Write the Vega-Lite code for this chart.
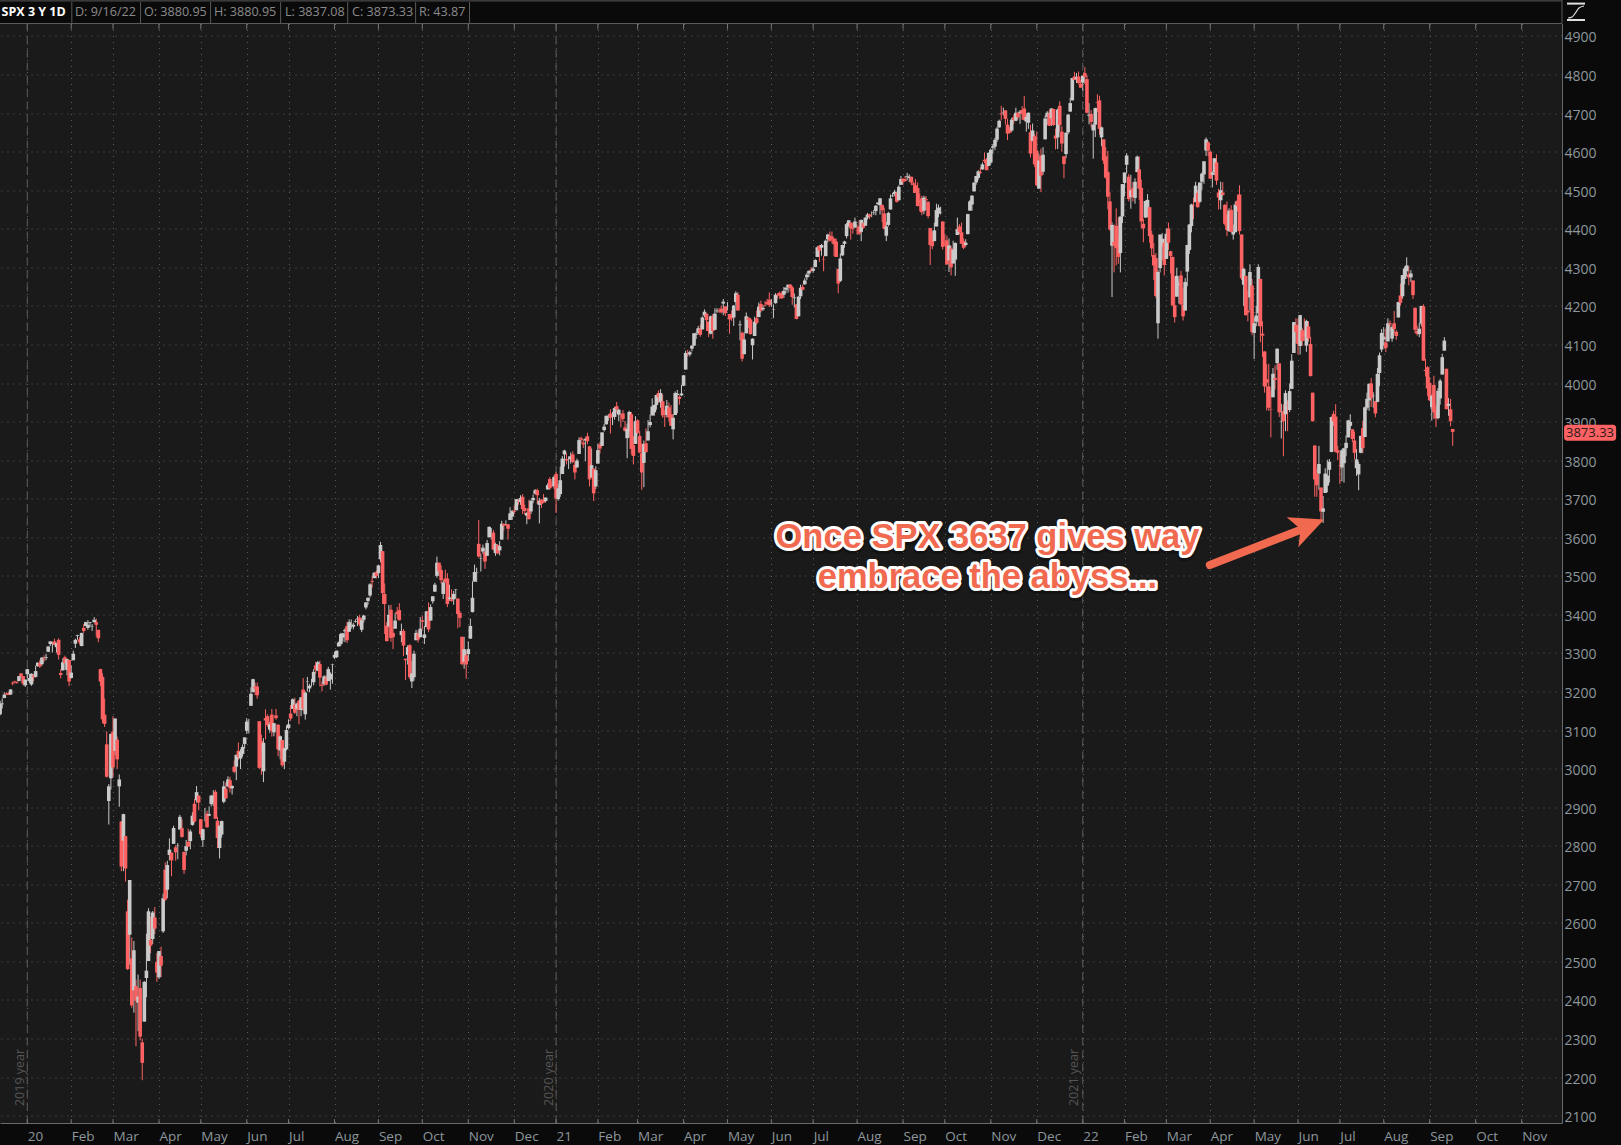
{"$schema":"https://vega.github.io/schema/vega-lite/v6.json","width":1562,"height":1099.5,"autosize":{"type":"none"},"padding":{"left":0,"top":23.5,"right":59,"bottom":22},"background":"#0a0a0a","view":{"fill":"#1a1a1a","stroke":null},
"datasets":{"candles":[
{"i":-13,"o":3141,"h":3176,"l":3138,"c":3169},{"i":-12,"o":3167,"h":3182,"l":3156,"c":3169},{"i":-11,"o":3183,"h":3198,"l":3183,"c":3192},{"i":-10,"o":3195,"h":3198,"l":3191,"c":3192},{"i":-9,"o":3195,"h":3198,"l":3191,"c":3191},{"i":-8,"o":3192,"h":3206,"l":3191,"c":3205},{"i":-7,"o":3223,"h":3226,"l":3216,"c":3221},{"i":-6,"o":3226,"h":3228,"l":3221,"c":3224},{"i":-5,"o":3225,"h":3226,"l":3220,"c":3223},{"i":-4,"o":3227,"h":3240,"l":3227,"c":3240},{"i":-3,"o":3247,"h":3247,"l":3235,"c":3240},{"i":-2,"o":3240,"h":3240,"l":3216,"c":3221},{"i":-1,"o":3216,"h":3231,"l":3212,"c":3231},
{"i":0,"o":3245,"h":3258,"l":3235,"c":3258},{"i":1,"o":3227,"h":3246,"l":3222,"c":3235},{"i":2,"o":3218,"h":3247,"l":3215,"c":3246},{"i":3,"o":3242,"h":3244,"l":3226,"c":3237},{"i":4,"o":3238,"h":3267,"l":3236,"c":3253},{"i":5,"o":3266,"h":3275,"l":3264,"c":3275},{"i":6,"o":3274,"h":3282,"l":3261,"c":3265},{"i":7,"o":3271,"h":3289,"l":3267,"c":3288},{"i":8,"o":3285,"h":3294,"l":3277,"c":3283},{"i":9,"o":3287,"h":3298,"l":3281,"c":3289},{"i":10,"o":3303,"h":3316,"l":3302,"c":3317},{"i":11,"o":3323,"h":3330,"l":3318,"c":3330},{"i":12,"o":3321,"h":3329,"l":3301,"c":3321},{"i":13,"o":3330,"h":3337,"l":3320,"c":3321},{"i":14,"o":3315,"h":3326,"l":3301,"c":3326},{"i":15,"o":3334,"h":3338,"l":3283,"c":3295},{"i":16,"o":3248,"h":3258,"l":3234,"c":3243},{"i":17,"o":3255,"h":3286,"l":3254,"c":3276},{"i":18,"o":3289,"h":3293,"l":3272,"c":3273},{"i":19,"o":3256,"h":3285,"l":3242,"c":3284},{"i":20,"o":3282,"h":3282,"l":3214,"c":3226},
{"i":21,"o":3235,"h":3268,"l":3235,"c":3249},{"i":22,"o":3281,"h":3306,"l":3281,"c":3298},{"i":23,"o":3324,"h":3337,"l":3313,"c":3334},{"i":24,"o":3344,"h":3347,"l":3334,"c":3346},{"i":25,"o":3335,"h":3341,"l":3322,"c":3328},{"i":26,"o":3318,"h":3352,"l":3317,"c":3352},{"i":27,"o":3365,"h":3375,"l":3352,"c":3357},{"i":28,"o":3370,"h":3381,"l":3369,"c":3380},{"i":29,"o":3365,"h":3385,"l":3360,"c":3373},{"i":30,"o":3378,"h":3380,"l":3367,"c":3380},{"i":31,"o":3369,"h":3375,"l":3357,"c":3370},{"i":32,"o":3380,"h":3393,"l":3378,"c":3386},{"i":33,"o":3380,"h":3389,"l":3342,"c":3373},{"i":34,"o":3360,"h":3360,"l":3328,"c":3338},{"i":35,"o":3258,"h":3259,"l":3214,"c":3226},{"i":36,"o":3238,"h":3247,"l":3118,"c":3128},{"i":37,"o":3140,"h":3182,"l":3108,"c":3116},{"i":38,"o":3063,"h":3097,"l":2977,"c":2979},{"i":39,"o":2916,"h":2960,"l":2855,"c":2954},
{"i":40,"o":2975,"h":3091,"l":2946,"c":3090},{"i":41,"o":3096,"h":3136,"l":2977,"c":3003},{"i":42,"o":3046,"h":3130,"l":3034,"c":3130},{"i":43,"o":3075,"h":3083,"l":2999,"c":3024},{"i":44,"o":2954,"h":2985,"l":2901,"c":2972},{"i":45,"o":2863,"h":2863,"l":2734,"c":2746},{"i":46,"o":2813,"h":2883,"l":2734,"c":2882},{"i":47,"o":2825,"h":2825,"l":2707,"c":2741},{"i":48,"o":2630,"h":2660,"l":2478,"c":2480},{"i":49,"o":2569,"h":2711,"l":2492,"c":2711},{"i":50,"o":2508,"h":2562,"l":2380,"c":2386},{"i":51,"o":2425,"h":2553,"l":2367,"c":2529},{"i":52,"o":2436,"h":2453,"l":2280,"c":2398},{"i":53,"o":2393,"h":2466,"l":2319,"c":2409},{"i":54,"o":2431,"h":2453,"l":2295,"c":2305},{"i":55,"o":2290,"h":2300,"l":2192,"c":2237},{"i":56,"o":2344,"h":2449,"l":2344,"c":2447},{"i":57,"o":2457,"h":2572,"l":2407,"c":2476},{"i":58,"o":2501,"h":2638,"l":2501,"c":2630},{"i":59,"o":2556,"h":2616,"l":2521,"c":2541},{"i":60,"o":2558,"h":2631,"l":2545,"c":2627},{"i":61,"o":2614,"h":2641,"l":2571,"c":2585},
{"i":62,"o":2499,"h":2522,"l":2447,"c":2471},{"i":63,"o":2459,"h":2520,"l":2455,"c":2527},{"i":64,"o":2514,"h":2538,"l":2459,"c":2489},{"i":65,"o":2578,"h":2676,"l":2574,"c":2664},{"i":66,"o":2738,"h":2757,"l":2657,"c":2660},{"i":67,"o":2686,"h":2761,"l":2664,"c":2750},{"i":68,"o":2776,"h":2819,"l":2762,"c":2790},{"i":69,"o":2782,"h":2782,"l":2721,"c":2762},{"i":70,"o":2805,"h":2852,"l":2805,"c":2846},{"i":71,"o":2796,"h":2801,"l":2761,"c":2783},{"i":72,"o":2799,"h":2807,"l":2765,"c":2800},{"i":73,"o":2842,"h":2880,"l":2842,"c":2875},{"i":74,"o":2846,"h":2868,"l":2821,"c":2823},{"i":75,"o":2784,"h":2785,"l":2727,"c":2737},{"i":76,"o":2787,"h":2815,"l":2775,"c":2799},{"i":77,"o":2810,"h":2844,"l":2797,"c":2798},{"i":78,"o":2812,"h":2842,"l":2791,"c":2837},{"i":79,"o":2854,"h":2887,"l":2852,"c":2878},{"i":80,"o":2909,"h":2921,"l":2860,"c":2863},{"i":81,"o":2918,"h":2955,"l":2912,"c":2939},{"i":82,"o":2930,"h":2930,"l":2892,"c":2912},
{"i":83,"o":2869,"h":2869,"l":2821,"c":2830},{"i":84,"o":2815,"h":2844,"l":2797,"c":2843},{"i":85,"o":2868,"h":2898,"l":2863,"c":2868},{"i":86,"o":2883,"h":2891,"l":2847,"c":2848},{"i":87,"o":2878,"h":2902,"l":2877,"c":2882},{"i":88,"o":2908,"h":2932,"l":2902,"c":2930},{"i":89,"o":2915,"h":2944,"l":2903,"c":2930},{"i":90,"o":2940,"h":2945,"l":2870,"c":2870},{"i":91,"o":2865,"h":2875,"l":2794,"c":2820},{"i":92,"o":2794,"h":2852,"l":2767,"c":2852},{"i":93,"o":2829,"h":2865,"l":2821,"c":2864},{"i":94,"o":2914,"h":2968,"l":2910,"c":2954},{"i":95,"o":2948,"h":2964,"l":2922,"c":2923},{"i":96,"o":2954,"h":2980,"l":2953,"c":2972},{"i":97,"o":2970,"h":2979,"l":2938,"c":2949},{"i":98,"o":2949,"h":2957,"l":2933,"c":2955},{"i":99,"o":3005,"h":3021,"l":2988,"c":2992},{"i":100,"o":3005,"h":3036,"l":2970,"c":3036},{"i":101,"o":3046,"h":3068,"l":3023,"c":3030},{"i":102,"o":3026,"h":3050,"l":2999,"c":3044},
{"i":103,"o":3038,"h":3063,"l":3031,"c":3056},{"i":104,"o":3064,"h":3081,"l":3052,"c":3081},{"i":105,"o":3098,"h":3131,"l":3090,"c":3122},{"i":106,"o":3112,"h":3129,"l":3091,"c":3112},{"i":107,"o":3163,"h":3211,"l":3163,"c":3194},{"i":108,"o":3199,"h":3233,"l":3197,"c":3232},{"i":109,"o":3213,"h":3223,"l":3191,"c":3207},{"i":110,"o":3213,"h":3223,"l":3181,"c":3190},{"i":111,"o":3123,"h":3123,"l":2999,"c":3002},{"i":112,"o":3072,"h":3088,"l":2984,"c":3041},{"i":113,"o":2993,"h":3079,"l":2965,"c":3067},{"i":114,"o":3131,"h":3154,"l":3076,"c":3125},{"i":115,"o":3136,"h":3141,"l":3108,"c":3113},{"i":116,"o":3101,"h":3121,"l":3093,"c":3115},{"i":117,"o":3140,"h":3155,"l":3083,"c":3098},{"i":118,"o":3094,"h":3118,"l":3084,"c":3118},{"i":119,"o":3138,"h":3155,"l":3127,"c":3131},{"i":120,"o":3114,"h":3115,"l":3032,"c":3050},{"i":121,"o":3047,"h":3086,"l":3024,"c":3084},{"i":122,"o":3074,"h":3074,"l":3004,"c":3009},{"i":123,"o":3018,"h":3054,"l":2999,"c":3053},{"i":124,"o":3050,"h":3112,"l":3047,"c":3100},
{"i":125,"o":3105,"h":3128,"l":3102,"c":3115},{"i":126,"o":3143,"h":3165,"l":3124,"c":3130},{"i":127,"o":3155,"h":3182,"l":3155,"c":3180},{"i":128,"o":3166,"h":3184,"l":3142,"c":3145},{"i":129,"o":3154,"h":3171,"l":3136,"c":3169},{"i":130,"o":3176,"h":3179,"l":3115,"c":3152},{"i":131,"o":3152,"h":3186,"l":3136,"c":3185},{"i":132,"o":3205,"h":3235,"l":3149,"c":3155},{"i":133,"o":3141,"h":3200,"l":3127,"c":3197},{"i":134,"o":3225,"h":3238,"l":3200,"c":3226},{"i":135,"o":3208,"h":3220,"l":3198,"c":3215},{"i":136,"o":3224,"h":3233,"l":3213,"c":3224},{"i":137,"o":3224,"h":3258,"l":3216,"c":3251},{"i":138,"o":3268,"h":3277,"l":3247,"c":3257},{"i":139,"o":3254,"h":3279,"l":3253,"c":3276},{"i":140,"o":3271,"h":3280,"l":3213,"c":3236},{"i":141,"o":3218,"h":3227,"l":3200,"c":3215},{"i":142,"o":3219,"h":3242,"l":3215,"c":3239},{"i":143,"o":3235,"h":3243,"l":3216,"c":3218},{"i":144,"o":3227,"h":3264,"l":3227,"c":3258},{"i":145,"o":3231,"h":3250,"l":3205,"c":3246},{"i":146,"o":3270,"h":3272,"l":3220,"c":3271},
{"i":147,"o":3288,"h":3303,"l":3284,"c":3295},{"i":148,"o":3289,"h":3306,"l":3287,"c":3306},{"i":149,"o":3317,"h":3330,"l":3317,"c":3327},{"i":150,"o":3323,"h":3352,"l":3318,"c":3349},{"i":151,"o":3340,"h":3352,"l":3329,"c":3351},{"i":152,"o":3356,"h":3364,"l":3328,"c":3360},{"i":153,"o":3370,"h":3381,"l":3326,"c":3333},{"i":154,"o":3355,"h":3387,"l":3355,"c":3380},{"i":155,"o":3372,"h":3387,"l":3363,"c":3373},{"i":156,"o":3368,"h":3378,"l":3361,"c":3373},{"i":157,"o":3380,"h":3387,"l":3379,"c":3382},{"i":158,"o":3387,"h":3396,"l":3370,"c":3389},{"i":159,"o":3392,"h":3399,"l":3369,"c":3374},{"i":160,"o":3360,"h":3390,"l":3354,"c":3385},{"i":161,"o":3386,"h":3399,"l":3379,"c":3397},{"i":162,"o":3418,"h":3432,"l":3413,"c":3431},{"i":163,"o":3435,"h":3444,"l":3425,"c":3443},{"i":164,"o":3449,"h":3481,"l":3444,"c":3478},{"i":165,"o":3486,"h":3501,"l":3469,"c":3484},{"i":166,"o":3494,"h":3510,"l":3494,"c":3508},{"i":167,"o":3509,"h":3514,"l":3493,"c":3500},
{"i":168,"o":3507,"h":3528,"l":3494,"c":3527},{"i":169,"o":3543,"h":3588,"l":3535,"c":3580},{"i":170,"o":3564,"h":3564,"l":3427,"c":3455},{"i":171,"o":3453,"h":3480,"l":3349,"c":3427},{"i":172,"o":3371,"h":3380,"l":3329,"c":3331},{"i":173,"o":3369,"h":3424,"l":3366,"c":3399},{"i":174,"o":3412,"h":3425,"l":3329,"c":3339},{"i":175,"o":3352,"h":3368,"l":3310,"c":3341},{"i":176,"o":3363,"h":3403,"l":3363,"c":3384},{"i":177,"o":3407,"h":3419,"l":3389,"c":3401},{"i":178,"o":3411,"h":3429,"l":3384,"c":3385},{"i":179,"o":3346,"h":3376,"l":3328,"c":3357},{"i":180,"o":3357,"h":3362,"l":3292,"c":3319},{"i":181,"o":3285,"h":3285,"l":3230,"c":3281},{"i":182,"o":3295,"h":3320,"l":3270,"c":3315},{"i":183,"o":3320,"h":3323,"l":3232,"c":3237},{"i":184,"o":3226,"h":3279,"l":3209,"c":3247},{"i":185,"o":3237,"h":3306,"l":3228,"c":3298},{"i":186,"o":3333,"h":3360,"l":3333,"c":3352},{"i":187,"o":3350,"h":3358,"l":3327,"c":3335},{"i":188,"o":3341,"h":3393,"l":3340,"c":3363},
{"i":189,"o":3385,"h":3397,"l":3361,"c":3381},{"i":190,"o":3339,"h":3370,"l":3323,"c":3348},{"i":191,"o":3367,"h":3409,"l":3367,"c":3408},{"i":192,"o":3408,"h":3431,"l":3354,"c":3361},{"i":193,"o":3384,"h":3426,"l":3384,"c":3419},{"i":194,"o":3434,"h":3447,"l":3428,"c":3447},{"i":195,"o":3459,"h":3482,"l":3458,"c":3477},{"i":196,"o":3500,"h":3550,"l":3495,"c":3534},{"i":197,"o":3534,"h":3534,"l":3500,"c":3512},{"i":198,"o":3515,"h":3527,"l":3480,"c":3489},{"i":199,"o":3453,"h":3489,"l":3440,"c":3483},{"i":200,"o":3493,"h":3516,"l":3482,"c":3483},{"i":201,"o":3493,"h":3507,"l":3419,"c":3427},{"i":202,"o":3440,"h":3477,"l":3435,"c":3444},{"i":203,"o":3439,"h":3465,"l":3433,"c":3435},{"i":204,"o":3439,"h":3461,"l":3425,"c":3453},{"i":205,"o":3464,"h":3466,"l":3441,"c":3465},{"i":206,"o":3441,"h":3441,"l":3364,"c":3401},{"i":207,"o":3404,"h":3409,"l":3367,"c":3391},{"i":208,"o":3342,"h":3342,"l":3268,"c":3271},{"i":209,"o":3277,"h":3342,"l":3259,"c":3310},{"i":210,"o":3294,"h":3305,"l":3233,"c":3270},
{"i":211,"o":3297,"h":3330,"l":3279,"c":3310},{"i":212,"o":3337,"h":3389,"l":3337,"c":3370},{"i":213,"o":3406,"h":3486,"l":3405,"c":3443},{"i":214,"o":3485,"h":3529,"l":3485,"c":3510},{"i":215,"o":3508,"h":3521,"l":3484,"c":3509},{"i":216,"o":3583,"h":3645,"l":3547,"c":3550},{"i":217,"o":3544,"h":3557,"l":3511,"c":3545},{"i":218,"o":3563,"h":3581,"l":3557,"c":3573},{"i":219,"o":3562,"h":3570,"l":3518,"c":3537},{"i":220,"o":3552,"h":3593,"l":3552,"c":3585},{"i":221,"o":3600,"h":3628,"l":3600,"c":3627},{"i":222,"o":3610,"h":3624,"l":3594,"c":3610},{"i":223,"o":3612,"h":3619,"l":3567,"c":3568},{"i":224,"o":3559,"h":3586,"l":3552,"c":3582},{"i":225,"o":3580,"h":3582,"l":3557,"c":3558},{"i":226,"o":3566,"h":3590,"l":3553,"c":3577},{"i":227,"o":3594,"h":3643,"l":3594,"c":3635},{"i":228,"o":3635,"h":3635,"l":3617,"c":3630},{"i":229,"o":3638,"h":3644,"l":3630,"c":3638},{"i":230,"o":3634,"h":3634,"l":3594,"c":3622},
{"i":231,"o":3645,"h":3678,"l":3645,"c":3662},{"i":232,"o":3654,"h":3670,"l":3645,"c":3669},{"i":233,"o":3668,"h":3682,"l":3660,"c":3666},{"i":234,"o":3670,"h":3699,"l":3670,"c":3699},{"i":235,"o":3694,"h":3698,"l":3684,"c":3692},{"i":236,"o":3691,"h":3709,"l":3684,"c":3702},{"i":237,"o":3705,"h":3712,"l":3660,"c":3673},{"i":238,"o":3676,"h":3685,"l":3658,"c":3668},{"i":239,"o":3656,"h":3665,"l":3634,"c":3663},{"i":240,"o":3675,"h":3697,"l":3646,"c":3647},{"i":241,"o":3667,"h":3695,"l":3660,"c":3695},{"i":242,"o":3696,"h":3711,"l":3688,"c":3702},{"i":243,"o":3713,"h":3725,"l":3711,"c":3722},{"i":244,"o":3722,"h":3726,"l":3686,"c":3709},{"i":245,"o":3684,"h":3702,"l":3636,"c":3695},{"i":246,"o":3698,"h":3698,"l":3676,"c":3687},{"i":247,"o":3694,"h":3712,"l":3689,"c":3690},{"i":248,"o":3694,"h":3703,"l":3690,"c":3703},{"i":249,"o":3724,"h":3740,"l":3724,"c":3735},{"i":250,"o":3751,"h":3756,"l":3723,"c":3727},{"i":251,"o":3736,"h":3744,"l":3730,"c":3732},{"i":252,"o":3733,"h":3760,"l":3726,"c":3756},
{"i":253,"o":3764,"h":3770,"l":3663,"c":3701},{"i":254,"o":3699,"h":3738,"l":3695,"c":3727},{"i":255,"o":3712,"h":3783,"l":3705,"c":3748},{"i":256,"o":3764,"h":3811,"l":3764,"c":3804},{"i":257,"o":3815,"h":3827,"l":3783,"c":3825},{"i":258,"o":3803,"h":3818,"l":3789,"c":3799},{"i":259,"o":3801,"h":3810,"l":3777,"c":3801},{"i":260,"o":3802,"h":3820,"l":3791,"c":3810},{"i":261,"o":3815,"h":3823,"l":3792,"c":3795},{"i":262,"o":3788,"h":3796,"l":3750,"c":3768},{"i":263,"o":3781,"h":3804,"l":3781,"c":3799},{"i":264,"o":3816,"h":3859,"l":3816,"c":3852},{"i":265,"o":3857,"h":3861,"l":3845,"c":3853},{"i":266,"o":3845,"h":3853,"l":3831,"c":3841},{"i":267,"o":3851,"h":3859,"l":3797,"c":3855},{"i":268,"o":3862,"h":3871,"l":3841,"c":3849},{"i":269,"o":3836,"h":3836,"l":3732,"c":3750},{"i":270,"o":3755,"h":3830,"l":3755,"c":3787},{"i":271,"o":3778,"h":3778,"l":3694,"c":3714},
{"i":272,"o":3732,"h":3784,"l":3725,"c":3774},{"i":273,"o":3791,"h":3843,"l":3791,"c":3826},{"i":274,"o":3840,"h":3847,"l":3817,"c":3830},{"i":275,"o":3837,"h":3872,"l":3837,"c":3872},{"i":276,"o":3878,"h":3894,"l":3874,"c":3887},{"i":277,"o":3893,"h":3916,"l":3892,"c":3915},{"i":278,"o":3910,"h":3919,"l":3902,"c":3911},{"i":279,"o":3921,"h":3932,"l":3869,"c":3910},{"i":280,"o":3917,"h":3925,"l":3891,"c":3917},{"i":281,"o":3912,"h":3938,"l":3905,"c":3935},{"i":282,"o":3940,"h":3951,"l":3923,"c":3932},{"i":283,"o":3918,"h":3933,"l":3901,"c":3931},{"i":284,"o":3915,"h":3921,"l":3885,"c":3914},{"i":285,"o":3921,"h":3930,"l":3899,"c":3907},{"i":286,"o":3885,"h":3902,"l":3874,"c":3876},{"i":287,"o":3857,"h":3895,"l":3805,"c":3881},{"i":288,"o":3874,"h":3928,"l":3859,"c":3925},{"i":289,"o":3919,"h":3925,"l":3815,"c":3829},{"i":290,"o":3839,"h":3862,"l":3789,"c":3811},
{"i":291,"o":3842,"h":3914,"l":3842,"c":3901},{"i":292,"o":3903,"h":3906,"l":3867,"c":3871},{"i":293,"o":3863,"h":3875,"l":3818,"c":3820},{"i":294,"o":3818,"h":3844,"l":3723,"c":3768},{"i":295,"o":3793,"h":3851,"l":3730,"c":3842},{"i":296,"o":3844,"h":3882,"l":3819,"c":3821},{"i":297,"o":3851,"h":3904,"l":3851,"c":3875},{"i":298,"o":3891,"h":3918,"l":3885,"c":3899},{"i":299,"o":3916,"h":3960,"l":3916,"c":3939},{"i":300,"o":3924,"h":3944,"l":3915,"c":3943},{"i":301,"o":3943,"h":3970,"l":3931,"c":3969},{"i":302,"o":3974,"h":3981,"l":3949,"c":3963},{"i":303,"o":3950,"h":3984,"l":3936,"c":3974},{"i":304,"o":3953,"h":3970,"l":3910,"c":3916},{"i":305,"o":3914,"h":3930,"l":3886,"c":3913},{"i":306,"o":3917,"h":3956,"l":3911,"c":3941},{"i":307,"o":3937,"h":3950,"l":3901,"c":3911},{"i":308,"o":3919,"h":3943,"l":3889,"c":3889},{"i":309,"o":3880,"h":3919,"l":3854,"c":3910},{"i":310,"o":3917,"h":3978,"l":3917,"c":3974},{"i":311,"o":3969,"h":3982,"l":3922,"c":3972},{"i":312,"o":3964,"h":3968,"l":3944,"c":3959},{"i":313,"o":3968,"h":3995,"l":3966,"c":3973},
{"i":314,"o":3993,"h":4021,"l":3992,"c":4020},{"i":315,"o":4035,"h":4084,"l":4035,"c":4078},{"i":316,"o":4075,"h":4086,"l":4069,"c":4074},{"i":317,"o":4074,"h":4084,"l":4069,"c":4080},{"i":318,"o":4089,"h":4098,"l":4082,"c":4097},{"i":319,"o":4097,"h":4129,"l":4096,"c":4129},{"i":320,"o":4125,"h":4132,"l":4114,"c":4128},{"i":321,"o":4130,"h":4148,"l":4127,"c":4142},{"i":322,"o":4141,"h":4152,"l":4120,"c":4125},{"i":323,"o":4139,"h":4173,"l":4139,"c":4170},{"i":324,"o":4175,"h":4191,"l":4171,"c":4185},{"i":325,"o":4180,"h":4181,"l":4135,"c":4163},{"i":326,"o":4159,"h":4160,"l":4119,"c":4135},{"i":327,"o":4128,"h":4175,"l":4126,"c":4173},{"i":328,"o":4171,"h":4179,"l":4115,"c":4135},{"i":329,"o":4138,"h":4194,"l":4138,"c":4180},{"i":330,"o":4186,"h":4194,"l":4182,"c":4188},{"i":331,"o":4188,"h":4194,"l":4182,"c":4187},{"i":332,"o":4193,"h":4201,"l":4181,"c":4183},{"i":333,"o":4206,"h":4218,"l":4176,"c":4211},{"i":334,"o":4199,"h":4199,"l":4174,"c":4181},
{"i":335,"o":4192,"h":4210,"l":4188,"c":4192},{"i":336,"o":4179,"h":4179,"l":4128,"c":4165},{"i":337,"o":4177,"h":4188,"l":4161,"c":4168},{"i":338,"o":4170,"h":4202,"l":4148,"c":4201},{"i":339,"o":4210,"h":4238,"l":4201,"c":4233},{"i":340,"o":4229,"h":4236,"l":4188,"c":4188},{"i":341,"o":4150,"h":4162,"l":4111,"c":4152},{"i":342,"o":4130,"h":4134,"l":4056,"c":4063},{"i":343,"o":4075,"h":4131,"l":4074,"c":4113},{"i":344,"o":4129,"h":4183,"l":4129,"c":4173},{"i":345,"o":4169,"h":4171,"l":4143,"c":4164},{"i":346,"o":4165,"h":4169,"l":4125,"c":4127},{"i":347,"o":4098,"h":4116,"l":4061,"c":4115},{"i":348,"o":4122,"h":4172,"l":4122,"c":4159},{"i":349,"o":4168,"h":4188,"l":4151,"c":4156},{"i":350,"o":4171,"h":4209,"l":4171,"c":4198},{"i":351,"o":4205,"h":4214,"l":4183,"c":4188},{"i":352,"o":4191,"h":4202,"l":4187,"c":4195},{"i":353,"o":4201,"h":4213,"l":4198,"c":4200},{"i":354,"o":4210,"h":4218,"l":4203,"c":4204},
{"i":355,"o":4216,"h":4235,"l":4197,"c":4202},{"i":356,"o":4207,"h":4218,"l":4198,"c":4208},{"i":357,"o":4191,"h":4204,"l":4168,"c":4192},{"i":358,"o":4207,"h":4233,"l":4206,"c":4229},{"i":359,"o":4229,"h":4233,"l":4220,"c":4227},{"i":360,"o":4234,"h":4237,"l":4218,"c":4227},{"i":361,"o":4232,"h":4238,"l":4218,"c":4220},{"i":362,"o":4229,"h":4249,"l":4221,"c":4239},{"i":363,"o":4242,"h":4249,"l":4233,"c":4247},{"i":364,"o":4248,"h":4255,"l":4234,"c":4255},{"i":365,"o":4255,"h":4257,"l":4238,"c":4246},{"i":366,"o":4248,"h":4252,"l":4203,"c":4223},{"i":367,"o":4220,"h":4232,"l":4196,"c":4222},{"i":368,"o":4204,"h":4204,"l":4165,"c":4166},{"i":369,"o":4173,"h":4226,"l":4173,"c":4224},{"i":370,"o":4225,"h":4255,"l":4218,"c":4247},{"i":371,"o":4249,"h":4256,"l":4241,"c":4242},{"i":372,"o":4256,"h":4272,"l":4255,"c":4266},{"i":373,"o":4274,"h":4286,"l":4267,"c":4281},{"i":374,"o":4284,"h":4292,"l":4275,"c":4291},{"i":375,"o":4294,"h":4301,"l":4287,"c":4291},{"i":376,"o":4291,"h":4302,"l":4286,"c":4297},
{"i":377,"o":4301,"h":4321,"l":4300,"c":4319},{"i":378,"o":4327,"h":4355,"l":4327,"c":4352},{"i":379,"o":4356,"h":4358,"l":4314,"c":4343},{"i":380,"o":4351,"h":4361,"l":4330,"c":4358},{"i":381,"o":4321,"h":4330,"l":4290,"c":4320},{"i":382,"o":4329,"h":4372,"l":4329,"c":4369},{"i":383,"o":4373,"h":4387,"l":4365,"c":4385},{"i":384,"o":4382,"h":4393,"l":4367,"c":4369},{"i":385,"o":4380,"h":4393,"l":4362,"c":4374},{"i":386,"o":4374,"h":4376,"l":4329,"c":4360},{"i":387,"o":4367,"h":4375,"l":4327,"c":4327},{"i":388,"o":4296,"h":4296,"l":4233,"c":4258},{"i":389,"o":4265,"h":4336,"l":4262,"c":4323},{"i":390,"o":4331,"h":4359,"l":4329,"c":4358},{"i":391,"o":4361,"h":4369,"l":4351,"c":4367},{"i":392,"o":4381,"h":4415,"l":4375,"c":4412},{"i":393,"o":4409,"h":4422,"l":4405,"c":4422},{"i":394,"o":4416,"h":4416,"l":4372,"c":4401},{"i":395,"o":4402,"h":4415,"l":4387,"c":4400},{"i":396,"o":4403,"h":4429,"l":4403,"c":4419},{"i":397,"o":4396,"h":4411,"l":4385,"c":4395},
{"i":398,"o":4406,"h":4422,"l":4384,"c":4387},{"i":399,"o":4392,"h":4424,"l":4368,"c":4423},{"i":400,"o":4415,"h":4416,"l":4400,"c":4403},{"i":401,"o":4408,"h":4430,"l":4408,"c":4429},{"i":402,"o":4429,"h":4441,"l":4424,"c":4437},{"i":403,"o":4437,"h":4439,"l":4425,"c":4432},{"i":404,"o":4436,"h":4445,"l":4430,"c":4436},{"i":405,"o":4442,"h":4449,"l":4436,"c":4443},{"i":406,"o":4446,"h":4461,"l":4435,"c":4460},{"i":407,"o":4464,"h":4468,"l":4462,"c":4468},{"i":408,"o":4461,"h":4480,"l":4437,"c":4479},{"i":409,"o":4462,"h":4462,"l":4417,"c":4448},{"i":410,"o":4440,"h":4455,"l":4400,"c":4400},{"i":411,"o":4382,"h":4418,"l":4368,"c":4406},{"i":412,"o":4410,"h":4444,"l":4406,"c":4441},{"i":413,"o":4450,"h":4489,"l":4450,"c":4479},{"i":414,"o":4484,"h":4493,"l":4483,"c":4486},{"i":415,"o":4490,"h":4501,"l":4485,"c":4496},{"i":416,"o":4493,"h":4496,"l":4468,"c":4470},{"i":417,"o":4474,"h":4513,"l":4474,"c":4509},{"i":418,"o":4514,"h":4537,"l":4514,"c":4529},{"i":419,"o":4529,"h":4532,"l":4514,"c":4522},
{"i":420,"o":4528,"h":4537,"l":4522,"c":4524},{"i":421,"o":4534,"h":4545,"l":4526,"c":4536},{"i":422,"o":4532,"h":4541,"l":4521,"c":4535},{"i":423,"o":4535,"h":4535,"l":4513,"c":4520},{"i":424,"o":4518,"h":4521,"l":4493,"c":4514},{"i":425,"o":4513,"h":4529,"l":4493,"c":4493},{"i":426,"o":4506,"h":4520,"l":4458,"c":4459},{"i":427,"o":4474,"h":4492,"l":4445,"c":4469},{"i":428,"o":4479,"h":4485,"l":4435,"c":4443},{"i":429,"o":4447,"h":4486,"l":4438,"c":4481},{"i":430,"o":4477,"h":4485,"l":4448,"c":4474},{"i":431,"o":4470,"h":4471,"l":4427,"c":4433},{"i":432,"o":4402,"h":4402,"l":4306,"c":4358},{"i":433,"o":4374,"h":4394,"l":4347,"c":4355},{"i":434,"o":4368,"h":4416,"l":4368,"c":4396},{"i":435,"o":4406,"h":4465,"l":4406,"c":4449},{"i":436,"o":4439,"h":4463,"l":4430,"c":4455},{"i":437,"o":4442,"h":4457,"l":4437,"c":4443},{"i":438,"o":4419,"h":4419,"l":4346,"c":4353},{"i":439,"o":4362,"h":4385,"l":4355,"c":4360},{"i":440,"o":4370,"h":4382,"l":4306,"c":4308},
{"i":441,"o":4318,"h":4375,"l":4288,"c":4357},{"i":442,"o":4349,"h":4356,"l":4279,"c":4300},{"i":443,"o":4310,"h":4369,"l":4310,"c":4346},{"i":444,"o":4320,"h":4365,"l":4278,"c":4363},{"i":445,"o":4384,"h":4429,"l":4384,"c":4399},{"i":446,"o":4406,"h":4412,"l":4386,"c":4391},{"i":447,"o":4391,"h":4416,"l":4361,"c":4361},{"i":448,"o":4368,"h":4375,"l":4347,"c":4351},{"i":449,"o":4358,"h":4373,"l":4354,"c":4364},{"i":450,"o":4386,"h":4439,"l":4386,"c":4438},{"i":451,"o":4447,"h":4475,"l":4447,"c":4471},{"i":452,"o":4463,"h":4487,"l":4447,"c":4486},{"i":453,"o":4497,"h":4520,"l":4497,"c":4520},{"i":454,"o":4520,"h":4537,"l":4514,"c":4537},{"i":455,"o":4532,"h":4552,"l":4527,"c":4549},{"i":456,"o":4547,"h":4559,"l":4542,"c":4545},{"i":457,"o":4554,"h":4572,"l":4553,"c":4567},{"i":458,"o":4579,"h":4598,"l":4570,"c":4575},{"i":459,"o":4580,"h":4584,"l":4552,"c":4552},{"i":460,"o":4563,"h":4598,"l":4563,"c":4597},{"i":461,"o":4572,"h":4608,"l":4567,"c":4605},
{"i":462,"o":4610,"h":4620,"l":4595,"c":4614},{"i":463,"o":4613,"h":4636,"l":4604,"c":4631},{"i":464,"o":4631,"h":4664,"l":4625,"c":4660},{"i":465,"o":4663,"h":4683,"l":4662,"c":4680},{"i":466,"o":4699,"h":4719,"l":4681,"c":4697},{"i":467,"o":4701,"h":4714,"l":4694,"c":4702},{"i":468,"o":4707,"h":4708,"l":4670,"c":4685},{"i":469,"o":4670,"h":4685,"l":4630,"c":4647},{"i":470,"o":4659,"h":4664,"l":4647,"c":4649},{"i":471,"o":4655,"h":4688,"l":4651,"c":4683},{"i":472,"o":4689,"h":4697,"l":4672,"c":4683},{"i":473,"o":4680,"h":4714,"l":4679,"c":4701},{"i":474,"o":4701,"h":4701,"l":4684,"c":4689},{"i":475,"o":4700,"h":4708,"l":4672,"c":4704},{"i":476,"o":4708,"h":4718,"l":4683,"c":4698},{"i":477,"o":4712,"h":4744,"l":4680,"c":4682},{"i":478,"o":4678,"h":4699,"l":4652,"c":4690},{"i":479,"o":4675,"h":4702,"l":4659,"c":4701},{"i":480,"o":4650,"h":4670,"l":4585,"c":4595},{"i":481,"o":4628,"h":4673,"l":4627,"c":4655},{"i":482,"o":4640,"h":4646,"l":4560,"c":4567},
{"i":483,"o":4602,"h":4652,"l":4510,"c":4513},{"i":484,"o":4504,"h":4595,"l":4504,"c":4577},{"i":485,"o":4589,"h":4608,"l":4495,"c":4538},{"i":486,"o":4548,"h":4612,"l":4540,"c":4592},{"i":487,"o":4632,"h":4694,"l":4632,"c":4686},{"i":488,"o":4690,"h":4705,"l":4670,"c":4701},{"i":489,"o":4699,"h":4708,"l":4667,"c":4667},{"i":490,"o":4687,"h":4713,"l":4667,"c":4712},{"i":491,"o":4711,"h":4710,"l":4667,"c":4669},{"i":492,"o":4642,"h":4660,"l":4606,"c":4634},{"i":493,"o":4637,"h":4712,"l":4607,"c":4709},{"i":494,"o":4719,"h":4731,"l":4652,"c":4669},{"i":495,"o":4652,"h":4666,"l":4600,"c":4621},{"i":496,"o":4588,"h":4588,"l":4531,"c":4568},{"i":497,"o":4594,"h":4651,"l":4583,"c":4649},{"i":498,"o":4650,"h":4698,"l":4645,"c":4696},{"i":499,"o":4704,"h":4740,"l":4703,"c":4726},{"i":500,"o":4733,"h":4791,"l":4733,"c":4791},{"i":501,"o":4795,"h":4807,"l":4788,"c":4786},{"i":502,"o":4788,"h":4804,"l":4778,"c":4793},{"i":503,"o":4795,"h":4808,"l":4775,"c":4778},{"i":504,"o":4776,"h":4787,"l":4766,"c":4766},
{"i":505,"o":4779,"h":4797,"l":4759,"c":4797},{"i":506,"o":4804,"h":4819,"l":4775,"c":4794},{"i":507,"o":4788,"h":4798,"l":4699,"c":4701},{"i":508,"o":4693,"h":4726,"l":4671,"c":4696},{"i":509,"o":4698,"h":4708,"l":4663,"c":4677},{"i":510,"o":4655,"h":4673,"l":4582,"c":4670},{"i":511,"o":4670,"h":4714,"l":4638,"c":4713},{"i":512,"o":4728,"h":4749,"l":4703,"c":4726},{"i":513,"o":4733,"h":4745,"l":4644,"c":4659},{"i":514,"o":4637,"h":4665,"l":4614,"c":4663},{"i":515,"o":4632,"h":4632,"l":4568,"c":4577},{"i":516,"o":4588,"h":4612,"l":4530,"c":4533},{"i":517,"o":4547,"h":4602,"l":4450,"c":4483},{"i":518,"o":4471,"h":4495,"l":4395,"c":4398},{"i":519,"o":4356,"h":4417,"l":4223,"c":4410},{"i":520,"o":4366,"h":4411,"l":4287,"c":4357},{"i":521,"o":4408,"h":4453,"l":4305,"c":4350},{"i":522,"o":4380,"h":4429,"l":4309,"c":4327},{"i":523,"o":4337,"h":4432,"l":4287,"c":4432},{"i":524,"o":4432,"h":4516,"l":4415,"c":4516},
{"i":525,"o":4519,"h":4546,"l":4484,"c":4546},{"i":526,"o":4566,"h":4596,"l":4544,"c":4590},{"i":527,"o":4535,"h":4542,"l":4471,"c":4477},{"i":528,"o":4482,"h":4540,"l":4452,"c":4500},{"i":529,"o":4505,"h":4521,"l":4471,"c":4484},{"i":530,"o":4480,"h":4531,"l":4465,"c":4522},{"i":531,"o":4547,"h":4590,"l":4547,"c":4587},{"i":532,"o":4554,"h":4588,"l":4475,"c":4504},{"i":533,"o":4506,"h":4527,"l":4401,"c":4419},{"i":534,"o":4413,"h":4426,"l":4365,"c":4401},{"i":535,"o":4429,"h":4473,"l":4429,"c":4472},{"i":536,"o":4455,"h":4490,"l":4430,"c":4475},{"i":537,"o":4456,"h":4456,"l":4364,"c":4381},{"i":538,"o":4385,"h":4395,"l":4328,"c":4349},{"i":539,"o":4332,"h":4363,"l":4267,"c":4305},{"i":540,"o":4324,"h":4337,"l":4221,"c":4226},{"i":541,"o":4155,"h":4294,"l":4115,"c":4288},{"i":542,"o":4298,"h":4385,"l":4287,"c":4385},{"i":543,"o":4354,"h":4389,"l":4318,"c":4374},
{"i":544,"o":4364,"h":4375,"l":4279,"c":4306},{"i":545,"o":4322,"h":4401,"l":4322,"c":4387},{"i":546,"o":4401,"h":4416,"l":4345,"c":4364},{"i":547,"o":4342,"h":4343,"l":4284,"c":4329},{"i":548,"o":4327,"h":4328,"l":4202,"c":4201},{"i":549,"o":4202,"h":4276,"l":4157,"c":4171},{"i":550,"o":4224,"h":4299,"l":4224,"c":4278},{"i":551,"o":4253,"h":4269,"l":4206,"c":4259},{"i":552,"o":4279,"h":4291,"l":4202,"c":4204},{"i":553,"o":4203,"h":4247,"l":4162,"c":4173},{"i":554,"o":4188,"h":4272,"l":4188,"c":4262},{"i":555,"o":4289,"h":4358,"l":4251,"c":4358},{"i":556,"o":4345,"h":4412,"l":4335,"c":4411},{"i":557,"o":4407,"h":4465,"l":4391,"c":4463},{"i":558,"o":4462,"h":4481,"l":4425,"c":4461},{"i":559,"o":4469,"h":4522,"l":4469,"c":4512},{"i":560,"o":4493,"h":4501,"l":4455,"c":4456},{"i":561,"o":4470,"h":4520,"l":4466,"c":4520},{"i":562,"o":4522,"h":4546,"l":4501,"c":4543},{"i":563,"o":4541,"h":4575,"l":4517,"c":4575},{"i":564,"o":4603,"h":4637,"l":4589,"c":4632},{"i":565,"o":4624,"h":4627,"l":4588,"c":4603},{"i":566,"o":4600,"h":4603,"l":4530,"c":4530},
{"i":567,"o":4540,"h":4549,"l":4507,"c":4546},{"i":568,"o":4547,"h":4583,"l":4539,"c":4583},{"i":569,"o":4572,"h":4593,"l":4514,"c":4525},{"i":570,"o":4494,"h":4504,"l":4450,"c":4481},{"i":571,"o":4474,"h":4522,"l":4450,"c":4500},{"i":572,"o":4494,"h":4521,"l":4485,"c":4488},{"i":573,"o":4462,"h":4464,"l":4408,"c":4413},{"i":574,"o":4437,"h":4471,"l":4381,"c":4397},{"i":575,"o":4394,"h":4453,"l":4392,"c":4447},{"i":576,"o":4449,"h":4461,"l":4390,"c":4392},{"i":577,"o":4385,"h":4411,"l":4372,"c":4392},{"i":578,"o":4391,"h":4471,"l":4391,"c":4463},{"i":579,"o":4473,"h":4489,"l":4445,"c":4459},{"i":580,"o":4489,"h":4513,"l":4385,"c":4394},{"i":581,"o":4385,"h":4386,"l":4267,"c":4272},{"i":582,"o":4255,"h":4299,"l":4200,"c":4296},{"i":583,"o":4278,"h":4278,"l":4175,"c":4176},{"i":584,"o":4188,"h":4240,"l":4160,"c":4183},{"i":585,"o":4222,"h":4308,"l":4188,"c":4288},{"i":586,"o":4253,"h":4270,"l":4124,"c":4132},
{"i":587,"o":4130,"h":4169,"l":4062,"c":4155},{"i":588,"o":4159,"h":4200,"l":4147,"c":4175},{"i":589,"o":4181,"h":4308,"l":4148,"c":4301},{"i":590,"o":4270,"h":4270,"l":4106,"c":4147},{"i":591,"o":4128,"h":4160,"l":4068,"c":4123},{"i":592,"o":4082,"h":4082,"l":3975,"c":3991},{"i":593,"o":4010,"h":4049,"l":3929,"c":4001},{"i":594,"o":3991,"h":4050,"l":3928,"c":3936},{"i":595,"o":3931,"h":3981,"l":3859,"c":3930},{"i":596,"o":3963,"h":4039,"l":3963,"c":4024},{"i":597,"o":4013,"h":4046,"l":3983,"c":4008},{"i":598,"o":4052,"h":4090,"l":4034,"c":4089},{"i":599,"o":4051,"h":4051,"l":3912,"c":3924},{"i":600,"o":3900,"h":3946,"l":3856,"c":3901},{"i":601,"o":3927,"h":3944,"l":3810,"c":3901},{"i":602,"o":3919,"h":3981,"l":3875,"c":3974},{"i":603,"o":3942,"h":3955,"l":3875,"c":3941},{"i":604,"o":3930,"h":3999,"l":3925,"c":3979},{"i":605,"o":3985,"h":4075,"l":3984,"c":4058},{"i":606,"o":4078,"h":4158,"l":4078,"c":4158},{"i":607,"o":4151,"h":4168,"l":4104,"c":4132},
{"i":608,"o":4150,"h":4167,"l":4074,"c":4101},{"i":609,"o":4096,"h":4177,"l":4074,"c":4176},{"i":610,"o":4137,"h":4143,"l":4097,"c":4109},{"i":611,"o":4135,"h":4168,"l":4110,"c":4121},{"i":612,"o":4097,"h":4164,"l":4081,"c":4161},{"i":613,"o":4147,"h":4160,"l":4107,"c":4116},{"i":614,"o":4101,"h":4120,"l":4017,"c":4018},{"i":615,"o":3975,"h":3975,"l":3900,"c":3901},{"i":616,"o":3838,"h":3838,"l":3705,"c":3750},{"i":617,"o":3764,"h":3778,"l":3705,"c":3735},{"i":618,"o":3765,"h":3837,"l":3723,"c":3790},{"i":619,"o":3729,"h":3729,"l":3639,"c":3667},{"i":620,"o":3666,"h":3707,"l":3637,"c":3675},{"i":621,"o":3715,"h":3779,"l":3715,"c":3765},{"i":622,"o":3734,"h":3801,"l":3717,"c":3760},{"i":623,"o":3775,"h":3803,"l":3742,"c":3796},{"i":624,"o":3821,"h":3913,"l":3821,"c":3912},{"i":625,"o":3920,"h":3928,"l":3889,"c":3901},{"i":626,"o":3913,"h":3945,"l":3820,"c":3822},{"i":627,"o":3826,"h":3837,"l":3800,"c":3819},{"i":628,"o":3786,"h":3818,"l":3738,"c":3785},
{"i":629,"o":3781,"h":3829,"l":3745,"c":3825},{"i":630,"o":3792,"h":3832,"l":3742,"c":3831},{"i":631,"o":3831,"h":3864,"l":3810,"c":3845},{"i":632,"o":3859,"h":3905,"l":3859,"c":3903},{"i":633,"o":3889,"h":3919,"l":3878,"c":3899},{"i":634,"o":3880,"h":3880,"l":3847,"c":3855},{"i":635,"o":3851,"h":3874,"l":3802,"c":3819},{"i":636,"o":3779,"h":3829,"l":3759,"c":3802},{"i":637,"o":3763,"h":3796,"l":3722,"c":3790},{"i":638,"o":3819,"h":3863,"l":3818,"c":3863},{"i":639,"o":3883,"h":3902,"l":3818,"c":3831},{"i":640,"o":3860,"h":3939,"l":3860,"c":3937},{"i":641,"o":3936,"h":3975,"l":3930,"c":3959},{"i":642,"o":3955,"h":3999,"l":3928,"c":3998},{"i":643,"o":3999,"h":4013,"l":3938,"c":3961},{"i":644,"o":3966,"h":3976,"l":3936,"c":3967},{"i":645,"o":3953,"h":3953,"l":3911,"c":3921},{"i":646,"o":3951,"h":4039,"l":3951,"c":4024},{"i":647,"o":4026,"h":4079,"l":3992,"c":4072},{"i":648,"o":4087,"h":4140,"l":4080,"c":4130},
{"i":649,"o":4113,"h":4145,"l":4097,"c":4119},{"i":650,"o":4105,"h":4141,"l":4080,"c":4091},{"i":651,"o":4108,"h":4168,"l":4108,"c":4155},{"i":652,"o":4155,"h":4162,"l":4135,"c":4152},{"i":653,"o":4115,"h":4151,"l":4107,"c":4145},{"i":654,"o":4155,"h":4187,"l":4128,"c":4140},{"i":655,"o":4133,"h":4138,"l":4112,"c":4122},{"i":656,"o":4170,"h":4211,"l":4170,"c":4210},{"i":657,"o":4227,"h":4258,"l":4201,"c":4208},{"i":658,"o":4225,"h":4280,"l":4219,"c":4280},{"i":659,"o":4270,"h":4302,"l":4256,"c":4297},{"i":660,"o":4290,"h":4326,"l":4277,"c":4305},{"i":661,"o":4281,"h":4303,"l":4253,"c":4274},{"i":662,"o":4274,"h":4293,"l":4262,"c":4284},{"i":663,"o":4266,"h":4266,"l":4218,"c":4228},{"i":664,"o":4195,"h":4196,"l":4129,"c":4138},{"i":665,"o":4135,"h":4149,"l":4123,"c":4128},{"i":666,"o":4127,"h":4156,"l":4119,"c":4141},{"i":667,"o":4154,"h":4200,"l":4147,"c":4200},{"i":668,"o":4199,"h":4204,"l":4058,"c":4058},{"i":669,"o":4034,"h":4063,"l":4017,"c":4031},{"i":670,"o":4041,"h":4044,"l":3966,"c":3986},{"i":671,"o":4000,"h":4015,"l":3954,"c":3955},
{"i":672,"o":3937,"h":3970,"l":3903,"c":3967},{"i":673,"o":3995,"h":4019,"l":3907,"c":3924},{"i":674,"o":3931,"h":3943,"l":3886,"c":3908},{"i":675,"o":3909,"h":3987,"l":3906,"c":3980},{"i":676,"o":3960,"h":4011,"l":3944,"c":4006},{"i":677,"o":4022,"h":4076,"l":4022,"c":4067},{"i":678,"o":4084,"h":4119,"l":4084,"c":4110},{"i":679,"o":4037,"h":4037,"l":3933,"c":3932},{"i":680,"o":3941,"h":3961,"l":3915,"c":3946},{"i":681,"o":3932,"h":3959,"l":3888,"c":3901},{"i":682,"o":3880.95,"h":3880.95,"l":3837.08,"c":3873.33}
],
"ticks":[{"i":0},{"i":21},{"i":41},{"i":63},{"i":83},{"i":105},{"i":125},{"i":147},{"i":168},{"i":189},{"i":211},{"i":233},{"i":253},{"i":273},{"i":292},{"i":314},{"i":335},{"i":356},{"i":376},{"i":397},{"i":419},{"i":439},{"i":461},{"i":483},{"i":505},{"i":525},{"i":545},{"i":566},{"i":587},{"i":608},{"i":628},{"i":649},{"i":671},{"i":693},{"i":715}],
"hdr":[{"i":-13.06,"i2":734.3,"v":4991,"v2":4991},{"i":-13.06,"i2":734.3,"v":4932.4,"v2":4932.4},{"i":734.3,"i2":734.3,"v":4993,"v2":4932.4},{"i":21.3,"i2":21.3,"v":4988,"v2":4932.4},{"i":54.2,"i2":54.2,"v":4988,"v2":4932.4},{"i":87.7,"i2":87.7,"v":4988,"v2":4932.4},{"i":121.2,"i2":121.2,"v":4988,"v2":4932.4},{"i":153.3,"i2":153.3,"v":4988,"v2":4932.4},{"i":185.8,"i2":185.8,"v":4988,"v2":4932.4},{"i":211.6,"i2":211.6,"v":4988,"v2":4932.4}],
"note":[{"i":459.4,"v":3599,"t":"Once SPX 3637 gives way"},{"i":459.4,"v":3495,"t":"embrace the abyss..."}],
"hdrtext":[{"i":22.8,"v":4961,"t":"D: 9/16/22"},{"i":55.8,"v":4961,"t":"O: 3880.95"},{"i":89.3,"v":4961,"t":"H: 3880.95"},{"i":123.3,"v":4961,"t":"L: 3837.08"},{"i":155.4,"v":4961,"t":"C: 3873.33"},{"i":187.4,"v":4961,"t":"R: 43.87"}],
"years":[{"i":0,"lx":-3.5,"v":2125,"t":"2019 year"},{"i":253,"lx":249.6,"v":2125,"t":"2020 year"},{"i":505,"lx":500.8,"v":2125,"t":"2021 year"}],
"icon":[{"i":737.2,"v":4946.7},{"i":739.1,"v":4949.3},{"i":741,"v":4962},{"i":742.4,"v":4972.5},{"i":744.8,"v":4977.8}],
"iconbars":[{"i":736.7,"i2":745.3,"v":4984},{"i":736.7,"i2":745.3,"v":4941.5}]
},
"layer":[
{"data":{"name":"ticks"},"mark":{"type":"rule","color":"#777777","strokeWidth":1},"encoding":{
"x":{"field":"i","type":"quantitative","scale":{"domain":[-13.06,734.3],"nice":false,"zero":false,"padding":0},"axis":{"orient":"bottom","title":null,"tickCount":60,"values":[0,21,41,63,83,105,125,147,168,189,211,233,253,273,292,314,335,356,376,397,419,439,461,483,505,525,545,566,587,608,628,649,671,693,715],"labelExpr":"{'0':'20','21':'Feb','41':'Mar','63':'Apr','83':'May','105':'Jun','125':'Jul','147':'Aug','168':'Sep','189':'Oct','211':'Nov','233':'Dec','253':'21','273':'Feb','292':'Mar','314':'Apr','335':'May','356':'Jun','376':'Jul','397':'Aug','419':'Sep','439':'Oct','461':'Nov','483':'Dec','505':'22','525':'Feb','545':'Mar','566':'Apr','587':'May','608':'Jun','628':'Jul','649':'Aug','671':'Sep','693':'Oct','715':'Nov'}[datum.value]","labelAlign":"left","labelBaseline":"top","labelPadding":6,"labelColor":"#8d979c","labelFont":"Open Sans","labelFontSize":13.5,"labelOverlap":false,"labelFlush":false,"labelBound":false,"ticks":false,"domain":true,"domainColor":"#6a6a6a","grid":true,"gridColor":"#5e5e5e","gridDash":[1,5],"gridWidth":1}},
"y":{"datum":4932.4,"type":"quantitative","scale":{"domain":[2081,4932.4],"nice":false,"zero":false,"padding":0},"axis":{"orient":"right","title":null,"tickCount":60,"values":[2100,2200,2300,2400,2500,2600,2700,2800,2900,3000,3100,3200,3300,3400,3500,3600,3700,3800,3900,4000,4100,4200,4300,4400,4500,4600,4700,4800,4900],"format":"d","labelPadding":2,"labelOffset":2,"labelColor":"#8d979c","labelFont":"Open Sans","labelFontSize":14,"labelOverlap":false,"labelFlush":false,"labelBound":false,"ticks":false,"domain":true,"domainColor":"#6a6a6a","grid":true,"gridColor":"#5e5e5e","gridDash":[1,5],"gridWidth":1}},
"y2":{"datum":4917}}},
{"data":{"name":"years"},"mark":{"type":"rule","color":"#5c5c5c","strokeDash":[8,5],"strokeWidth":1},"encoding":{"x":{"field":"i","type":"quantitative"}}},
{"data":{"name":"years"},"mark":{"type":"text","color":"#565656","angle":270,"align":"left","baseline":"middle","font":"Open Sans","fontSize":12.5},"encoding":{"x":{"field":"lx","type":"quantitative"},"y":{"field":"v","type":"quantitative"},"text":{"field":"t"}}},
{"data":{"name":"ticks"},"mark":{"type":"rule","color":"#777777","strokeWidth":1},"encoding":{"x":{"field":"i","type":"quantitative"},"y":{"datum":2081,"type":"quantitative"},"y2":{"datum":2091}}},
{"data":{"name":"candles"},"mark":{"type":"rule","strokeWidth":1},"encoding":{"x":{"field":"i","type":"quantitative"},"y":{"field":"l","type":"quantitative"},"y2":{"field":"h"},"color":{"condition":{"test":"datum.c>=datum.o","value":"#cacaca"},"value":"#ff6262"}}},
{"data":{"name":"candles"},"mark":{"type":"bar","width":3.6,"orient":"vertical"},"encoding":{"x":{"field":"i","type":"quantitative"},"y":{"field":"o","type":"quantitative"},"y2":{"field":"c"},"color":{"condition":{"test":"datum.c>=datum.o","value":"#cacaca"},"value":"#ff6262"}}},
{"data":{"name":"hdr"},"mark":{"type":"rule","color":"#5a5a5a","strokeWidth":1},"encoding":{"x":{"field":"i","type":"quantitative"},"x2":{"field":"i2"},"y":{"field":"v","type":"quantitative"},"y2":{"field":"v2"}}},
{"data":{"values":[{"i":-12.3,"v":4961,"t":"SPX 3 Y 1D"}]},"mark":{"type":"text","color":"#ffffff","fontWeight":"bold","align":"left","baseline":"middle","font":"Open Sans","fontSize":12.5},"encoding":{"x":{"field":"i","type":"quantitative"},"y":{"field":"v","type":"quantitative"},"text":{"field":"t"}}},
{"data":{"name":"hdrtext"},"mark":{"type":"text","color":"#8a8a8a","align":"left","baseline":"middle","font":"Open Sans","fontSize":12.6},"encoding":{"x":{"field":"i","type":"quantitative"},"y":{"field":"v","type":"quantitative"},"text":{"field":"t"}}},
{"data":{"name":"iconbars"},"mark":{"type":"rule","color":"#e0e0e0","strokeWidth":2},"encoding":{"x":{"field":"i","type":"quantitative"},"x2":{"field":"i2"},"y":{"field":"v","type":"quantitative"}}},
{"data":{"name":"icon"},"mark":{"type":"line","color":"#e0e0e0","strokeWidth":1.2,"interpolate":"monotone"},"encoding":{"x":{"field":"i","type":"quantitative"},"y":{"field":"v","type":"quantitative"}}},
{"data":{"values":[{"i":735.3,"i2":760.2,"v":3892,"v2":3850}]},"mark":{"type":"rect","color":"#ff6262","cornerRadius":3},"encoding":{"x":{"field":"i","type":"quantitative"},"x2":{"field":"i2"},"y":{"field":"v","type":"quantitative"},"y2":{"field":"v2"}}},
{"data":{"values":[{"i":747.7,"v":3871,"t":"3873.33"}]},"mark":{"type":"text","color":"#2a1a1a","align":"center","baseline":"middle","font":"Open Sans","fontSize":13},"encoding":{"x":{"field":"i","type":"quantitative"},"y":{"field":"v","type":"quantitative"},"text":{"field":"t"}}},
{"data":{"values":[{"i":565.8,"v":3528,"i2":609,"v2":3619}]},"mark":{"type":"rule","color":"#f16a50","strokeWidth":8,"strokeCap":"round"},"encoding":{"x":{"field":"i","type":"quantitative"},"x2":{"field":"i2"},"y":{"field":"v","type":"quantitative"},"y2":{"field":"v2"}}},
{"data":{"values":[{"i":611.05,"v":3625.6}]},"mark":{"type":"point","filled":true,"opacity":1,"color":"#f16a50","size":1800,"angle":338.3,"shape":"M1,0 L-0.6,-0.75 L-0.2,0 L-0.6,0.75 Z"},"encoding":{"x":{"field":"i","type":"quantitative"},"y":{"field":"v","type":"quantitative"}}},
{"data":{"name":"note"},"mark":{"type":"text","fill":"#000000","stroke":"#000000","strokeWidth":8,"strokeJoin":"round","opacity":0.3,"dy":2,"align":"center","baseline":"middle","font":"Liberation Sans","fontWeight":"bold","fontSize":34.5},"encoding":{"x":{"field":"i","type":"quantitative"},"y":{"field":"v","type":"quantitative"},"text":{"field":"t"}}},
{"data":{"name":"note"},"mark":{"type":"text","fill":"#ffffff","stroke":"#ffffff","strokeWidth":6,"strokeJoin":"round","align":"center","baseline":"middle","font":"Liberation Sans","fontWeight":"bold","fontSize":34.5},"encoding":{"x":{"field":"i","type":"quantitative"},"y":{"field":"v","type":"quantitative"},"text":{"field":"t"}}},
{"data":{"name":"note"},"mark":{"type":"text","color":"#f16a50","align":"center","baseline":"middle","font":"Liberation Sans","fontWeight":"bold","fontSize":34.5},"encoding":{"x":{"field":"i","type":"quantitative"},"y":{"field":"v","type":"quantitative"},"text":{"field":"t"}}}
]}
